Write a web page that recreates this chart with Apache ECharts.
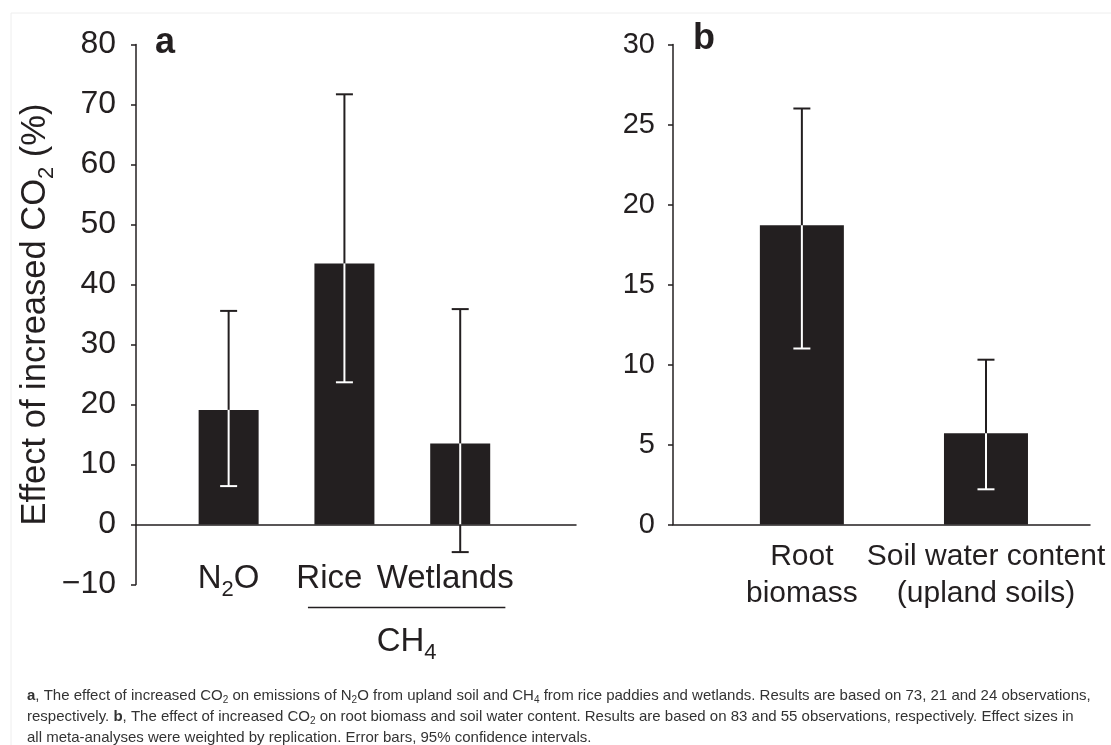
<!DOCTYPE html>
<html>
<head>
<meta charset="utf-8">
<script src="https://cdn.jsdelivr.net/npm/echarts@6/dist/echarts.min.js"></script>
<style>
html, body { margin: 0; padding: 0; background: #fff; }
#chart { width: 1111px; height: 745px; }
</style>
</head>
<body>
<div id="chart"></div>
<script>
// panel a: effect on N2O / CH4 emissions
var catA = ['N2O', 'Rice', 'Wetlands'];
var valA = [19.1, 43.5, 13.5];
var lowA = [6.4, 23.7, -4.6];
var highA = [35.6, 71.7, 35.9];
var groupA = 'CH4';            // Rice + Wetlands
var nameA = 'Effect of increased CO2 (%)';

// panel b: root biomass / soil water
var catB = ['Root\nbiomass', 'Soil water content\n(upland soils)'];
var valB = [18.7, 5.7];
var lowB = [11.0, 2.2];
var highB = [26.0, 10.3];

var captionLines = [
    '{b|a}, The effect of increased CO2 on emissions of N2O from upland soil and CH4 from rice paddies and wetlands. Results are based on 73, 21 and 24 observations,',
    'respectively. {b|b}, The effect of increased CO2 on root biomass and soil water content. Results are based on 83 and 55 observations, respectively. Effect sizes in',
    'all meta-analyses were weighted by replication. Error bars, 95% confidence intervals.'
];

var INK = '#231f20';
var FONT = '"Liberation Sans", Arial, Helvetica, sans-serif';
var labelShiftA = [0, -0.13, -0.13];   // rice / wetlands labels sit a bit left of their bars

// chemical formula -> rich text with subscripts
function chem(s) {
    return s.replace(/([A-Z])(\d)/g, '$1{sub|$2}');
}

function barData(vals) {
    return vals.map(function (v, i) { return [i + 1, v]; });
}

function errorSeries(idx, vals, lows, highs) {
    return {
        type: 'custom',
        xAxisIndex: idx,
        yAxisIndex: idx,
        z: 5,
        data: vals.map(function (v, i) { return [i + 1, lows[i], highs[i], v]; }),
        renderItem: function (params, api) {
            var x = api.value(0), lo = api.value(1), hi = api.value(2), v = api.value(3);
            var px = api.coord([x, 0])[0];
            var yOf = function (val) { return api.coord([x, val])[1]; };
            var children = [];
            function seg(a, b, color) {
                if (b > a) {
                    children.push({ type: 'line', shape: { x1: px, y1: yOf(a), x2: px, y2: yOf(b) },
                        style: { stroke: color, lineWidth: 2 } });
                }
            }
            function cap(val) {
                var inside = val > 0 && val < v;
                children.push({ type: 'line', shape: { x1: px - 8.5, y1: yOf(val), x2: px + 8.5, y2: yOf(val) },
                    style: { stroke: inside ? '#fff' : INK, lineWidth: 2 } });
            }
            seg(Math.max(v, lo), hi, INK);                 // above the bar
            seg(Math.max(lo, 0), Math.min(hi, v), '#fff'); // inside the bar
            seg(lo, Math.min(0, hi), INK);                 // below zero
            cap(hi);
            cap(lo);
            return { type: 'group', children: children };
        }
    };
}

var axisLineStyle = { color: INK, width: 1.5 };
var subStyle = { fontSize: 22, lineHeight: 22, verticalAlign: 'bottom', color: INK, fontFamily: FONT };

var option = {
    animation: false,
    backgroundColor: '#fff',
    grid: [
        { left: 136, top: 44.5, width: 440, height: 540 },
        { left: 673, top: 44.5, width: 417, height: 480 }
    ],
    xAxis: [{
        type: 'value', gridIndex: 0, min: 0.2, max: 4.0,
        splitLine: { show: false },
        axisTick: { show: false },
        axisLine: { onZero: true, lineStyle: axisLineStyle },
        axisLabel: {
            customValues: catA.map(function (c, i) { return i + 1 + labelShiftA[i]; }),
            margin: -27.5,
            fontSize: 33,
            lineHeight: 44,
            color: INK,
            fontFamily: FONT,
            hideOverlap: false,
            formatter: function (v) { return chem(catA[Math.round(v) - 1]); },
            rich: { sub: subStyle }
        }
    }, {
        type: 'value', gridIndex: 1, min: 0.3, max: 2.565,
        splitLine: { show: false },
        axisTick: { show: false },
        axisLine: { onZero: true, lineStyle: axisLineStyle },
        axisLabel: {
            customValues: [1, 2],
            margin: 14,
            fontSize: 30,
            lineHeight: 37,
            color: INK,
            fontFamily: FONT,
            formatter: function (v) { return catB[Math.round(v) - 1]; }
        }
    }],
    yAxis: [{
        type: 'value', gridIndex: 0, min: -10, max: 80, interval: 10,
        splitLine: { show: false },
        axisLine: { show: true, lineStyle: axisLineStyle },
        axisTick: { show: true, length: 5, lineStyle: axisLineStyle },
        axisLabel: {
            margin: 20, fontSize: 32, color: INK, fontFamily: FONT,
            formatter: function (v) { return String(v).replace('-', '\u2212'); }
        },
        name: chem(nameA),
        nameLocation: 'middle',
        nameRotate: 90,
        nameGap: 71,
        nameTextStyle: {
            fontSize: 34.5, lineHeight: 44, color: INK, fontFamily: FONT,
            rich: { sub: subStyle }
        }
    }, {
        type: 'value', gridIndex: 1, min: 0, max: 30, interval: 5,
        splitLine: { show: false },
        axisLine: { show: true, lineStyle: axisLineStyle },
        axisTick: { show: true, length: 5, lineStyle: axisLineStyle },
        axisLabel: { margin: 18, fontSize: 29, color: INK, fontFamily: FONT }
    }],
    series: [
        { type: 'bar', xAxisIndex: 0, yAxisIndex: 0, barWidth: 60, data: barData(valA), itemStyle: { color: INK } },
        { type: 'bar', xAxisIndex: 1, yAxisIndex: 1, barWidth: 84, data: barData(valB), itemStyle: { color: INK } },
        errorSeries(0, valA, lowA, highA),
        errorSeries(1, valB, lowB, highB)
    ]
};

var chart = echarts.init(document.getElementById('chart'), null, { renderer: 'canvas' });
chart.setOption(option);

// annotations: panel letters, CH4 bracket, caption, frame
var gx1 = chart.convertToPixel({ xAxisIndex: 0 }, 1.685);
var gx2 = chart.convertToPixel({ xAxisIndex: 0 }, 3.39);
var graphics = [
    { type: 'line', shape: { x1: 11, y1: 13, x2: 11, y2: 745 }, style: { stroke: '#eeeeee', lineWidth: 1 } },
    { type: 'line', shape: { x1: 11, y1: 13, x2: 1111, y2: 13 }, style: { stroke: '#eeeeee', lineWidth: 1 } },
    { type: 'text', x: 155, y: 43, style: { text: 'a', font: 'bold 36px ' + FONT, fill: INK, textVerticalAlign: 'middle' } },
    { type: 'text', x: 693, y: 39, style: { text: 'b', font: 'bold 36px ' + FONT, fill: INK, textVerticalAlign: 'middle' } },
    { type: 'line', shape: { x1: gx1, y1: 607.5, x2: gx2, y2: 607.5 }, style: { stroke: INK, lineWidth: 1.5 } },
    { type: 'text', x: (gx1 + gx2) / 2, y: 642,
      style: { text: chem(groupA), fontSize: 33, fontFamily: FONT, fill: INK, lineHeight: 44,
               textAlign: 'center', textVerticalAlign: 'middle',
               rich: { sub: { fontSize: 22, lineHeight: 22, verticalAlign: 'bottom', fill: INK, fontFamily: FONT } } } }
];
captionLines.forEach(function (line, i) {
    graphics.push({
        type: 'text', x: 27, y: 696 + i * 21,
        style: {
            text: chem(line), fontSize: 15, fontFamily: FONT, fill: '#333', lineHeight: 19,
            textVerticalAlign: 'middle',
            rich: {
                sub: { fontSize: 10, lineHeight: 19, verticalAlign: 'bottom', fill: '#333', fontFamily: FONT },
                b: { fontSize: 15, fontWeight: 'bold', fill: '#333', fontFamily: FONT }
            }
        }
    });
});
chart.setOption({ graphic: graphics });
</script>
</body>
</html>
